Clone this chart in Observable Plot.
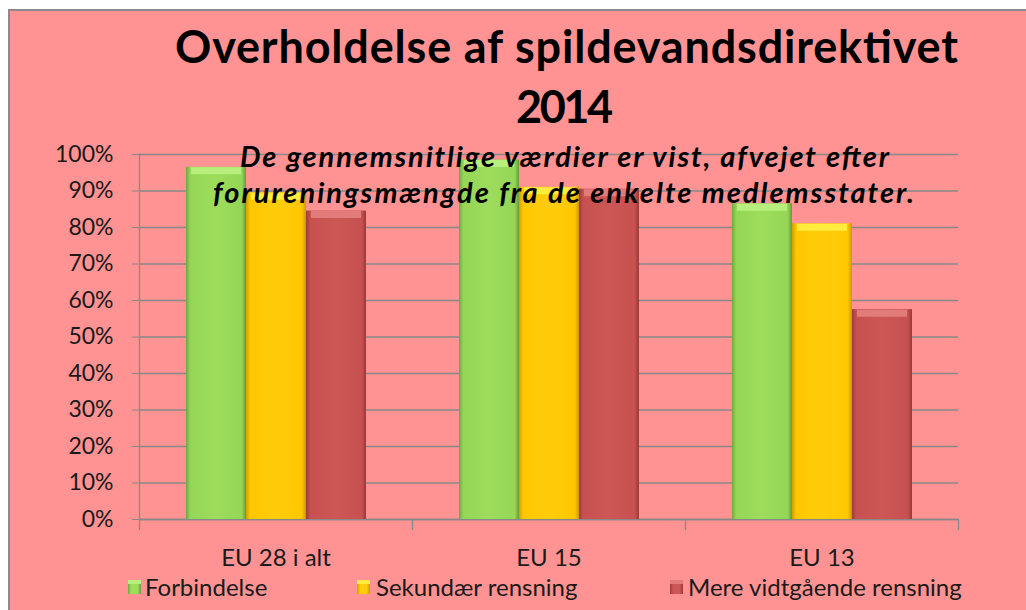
<!DOCTYPE html>
<html><head><meta charset="utf-8">
<script src="https://cdn.jsdelivr.net/npm/d3@7"></script>
<script src="https://cdn.jsdelivr.net/npm/@observablehq/plot@0.6"></script>
<style>
body{margin:0;background:#fff;}
#wrap{position:relative;width:1026px;height:610px;overflow:hidden;font-family:Lato,"Open Sans",sans-serif;}
#panel{position:absolute;left:8px;top:9px;width:1030px;height:610px;background:#FF9393;border-left:2px solid #8a8a8a;border-top:2px solid #8a8a8a;}
#chart{position:absolute;left:0;top:0;}
#overlay{position:absolute;left:0;top:0;pointer-events:none;}
.sw{position:absolute;top:580px;width:13px;height:14px;}
.lt{position:absolute;top:572px;font-size:24px;line-height:30px;color:#1a1a1a;white-space:nowrap;}
</style>
</head><body>
<div id="wrap"><div id="panel"></div><div id="chart"></div><svg id="overlay" width="1026" height="610"></svg><div id="legend"></div></div>
<script>
// ---- data ----
const categories = ["EU 28 i alt", "EU 15", "EU 13"];
const series = ["Forbindelse", "Sekundær rensning", "Mere vidtgående rensning"];
const forbindelse = [96.5, 98.5, 86.5];
const sekundaer = [89.5, 91, 81];
const mereVidtgaaende = [84.5, 90.5, 57.5];
const yTicks = [0, 10, 20, 30, 40, 50, 60, 70, 80, 90, 100];
const titleLines = ["Overholdelse af spildevandsdirektivet", "2014"];
const noteLines = ["De gennemsnitlige værdier er vist, afvejet efter", "forureningsmængde fra de enkelte medlemsstater."];

// ---- styles ----
const grads = [
  ["#6FA83C", "#94D656", "#9EDC5C", "#94D656", "#66993A"],
  ["#D39E00", "#FFC700", "#FFCC0C", "#FFC700", "#CF9600"],
  ["#9E3C3A", "#C65150", "#CC5755", "#C65150", "#983937"]
];
const tops = ["#B8EE7C", "#FFEC3C", "#E27C7A"];
const gridColor = "#888888";

const valuesBySeries = [forbindelse, sekundaer, mereVidtgaaende];
const table = [];
series.forEach((s, i) => categories.forEach((c, j) => table.push({category: c, series: s, value: valuesBySeries[i][j]})));

const H = 580, MT = 154, MB = 61;
const innerH = H - MT - MB;

const marks = [
  Plot.gridY(yTicks, {stroke: gridColor, strokeOpacity: 1, strokeWidth: 1.3}),
  Plot.frame({anchor: "left", facetAnchor: "left", stroke: gridColor, strokeWidth: 1.3}),
  Plot.frame({anchor: "left", insetTop: innerH, insetBottom: -10, stroke: gridColor, strokeWidth: 1.3}),
  Plot.frame({anchor: "right", facetAnchor: "right", insetTop: innerH, insetBottom: -10, stroke: gridColor, strokeWidth: 1.3}),
  Plot.ruleY([0], {stroke: gridColor, strokeWidth: 1.3})
];
series.forEach((s, i) => {
  marks.push(Plot.barY(table, {filter: d => d.series === s, fx: "category", x: "series", y: "value", fill: `url(#g${i})`}));
  marks.push(Plot.tickY(table, {filter: d => d.series === s, fx: "category", x: "series", y: "value", stroke: tops[i], strokeWidth: 7, dy: 3.5, insetLeft: 5, insetRight: 5}));
});
marks.push(Plot.axisY(yTicks, {anchor: "left", tickFormat: d => d + "%", tickSize: 7, tickPadding: 19, stroke: gridColor, fontSize: 23}));
marks.push(Plot.axisFx({anchor: "bottom", tickSize: 0, tickPadding: 29, fontSize: 24, label: null}));

const plot = Plot.plot({
  width: 1026, height: H,
  marginTop: MT, marginBottom: MB, marginLeft: 139, marginRight: 68,
  style: {background: "transparent", fontFamily: "Lato, 'Open Sans', sans-serif", color: "#1a1a1a", overflow: "visible"},
  fx: {domain: categories, padding: 0, label: null, axis: null},
  x: {domain: series, paddingInner: 0, paddingOuter: 0.74, axis: null},
  y: {domain: [0, 100], label: null, axis: null},
  marks
});

// gradients
const defs = d3.select(plot).insert("defs", ":first-child");
grads.forEach((g, i) => {
  const lg = defs.append("linearGradient").attr("id", `g${i}`).attr("x1", 0).attr("x2", 1).attr("y1", 0).attr("y2", 0);
  [0, 0.07, 0.5, 0.93, 1].forEach((o, k) => lg.append("stop").attr("offset", o).attr("stop-color", g[k]));
});
document.getElementById("chart").appendChild(plot);

// title and note overlay
const ov = d3.select("#overlay");
const textSpecs = [
  {t: titleLines[0], x: 175, y: 63, len: 783, size: 45, style: "normal"},
  {t: titleLines[1], x: 516, y: 123, len: 97, size: 45, style: "normal"},
  {t: noteLines[0], x: 240, y: 167, len: 649, size: 29, style: "italic"},
  {t: noteLines[1], x: 213, y: 203, len: 701, size: 29, style: "italic"}
];
textSpecs.forEach(s => {
  ov.append("text").attr("x", s.x).attr("y", s.y)
    .attr("font-family", "Lato, 'Open Sans', sans-serif").attr("font-weight", 700)
    .attr("font-style", s.style).attr("font-size", s.size).attr("fill", "#000")
    .attr("textLength", s.len).attr("lengthAdjust", "spacing").text(s.t);
});

// legend
const legend = document.getElementById("legend");
const legPos = [[128, 145], [357, 376], [670, 688]];
series.forEach((s, i) => {
  const g = grads[i];
  const sw = document.createElement("div");
  sw.className = "sw";
  sw.style.left = legPos[i][0] + "px";
  sw.style.background = `linear-gradient(to bottom, ${tops[i]} 0, ${tops[i]} 25%, transparent 25%), linear-gradient(to right, ${g[0]}, ${g[2]} 25%, ${g[2]} 75%, ${g[4]})`;
  legend.appendChild(sw);
  const lt = document.createElement("div");
  lt.className = "lt";
  lt.style.left = legPos[i][1] + "px";
  lt.textContent = s;
  legend.appendChild(lt);
});
</script>
</body></html>
